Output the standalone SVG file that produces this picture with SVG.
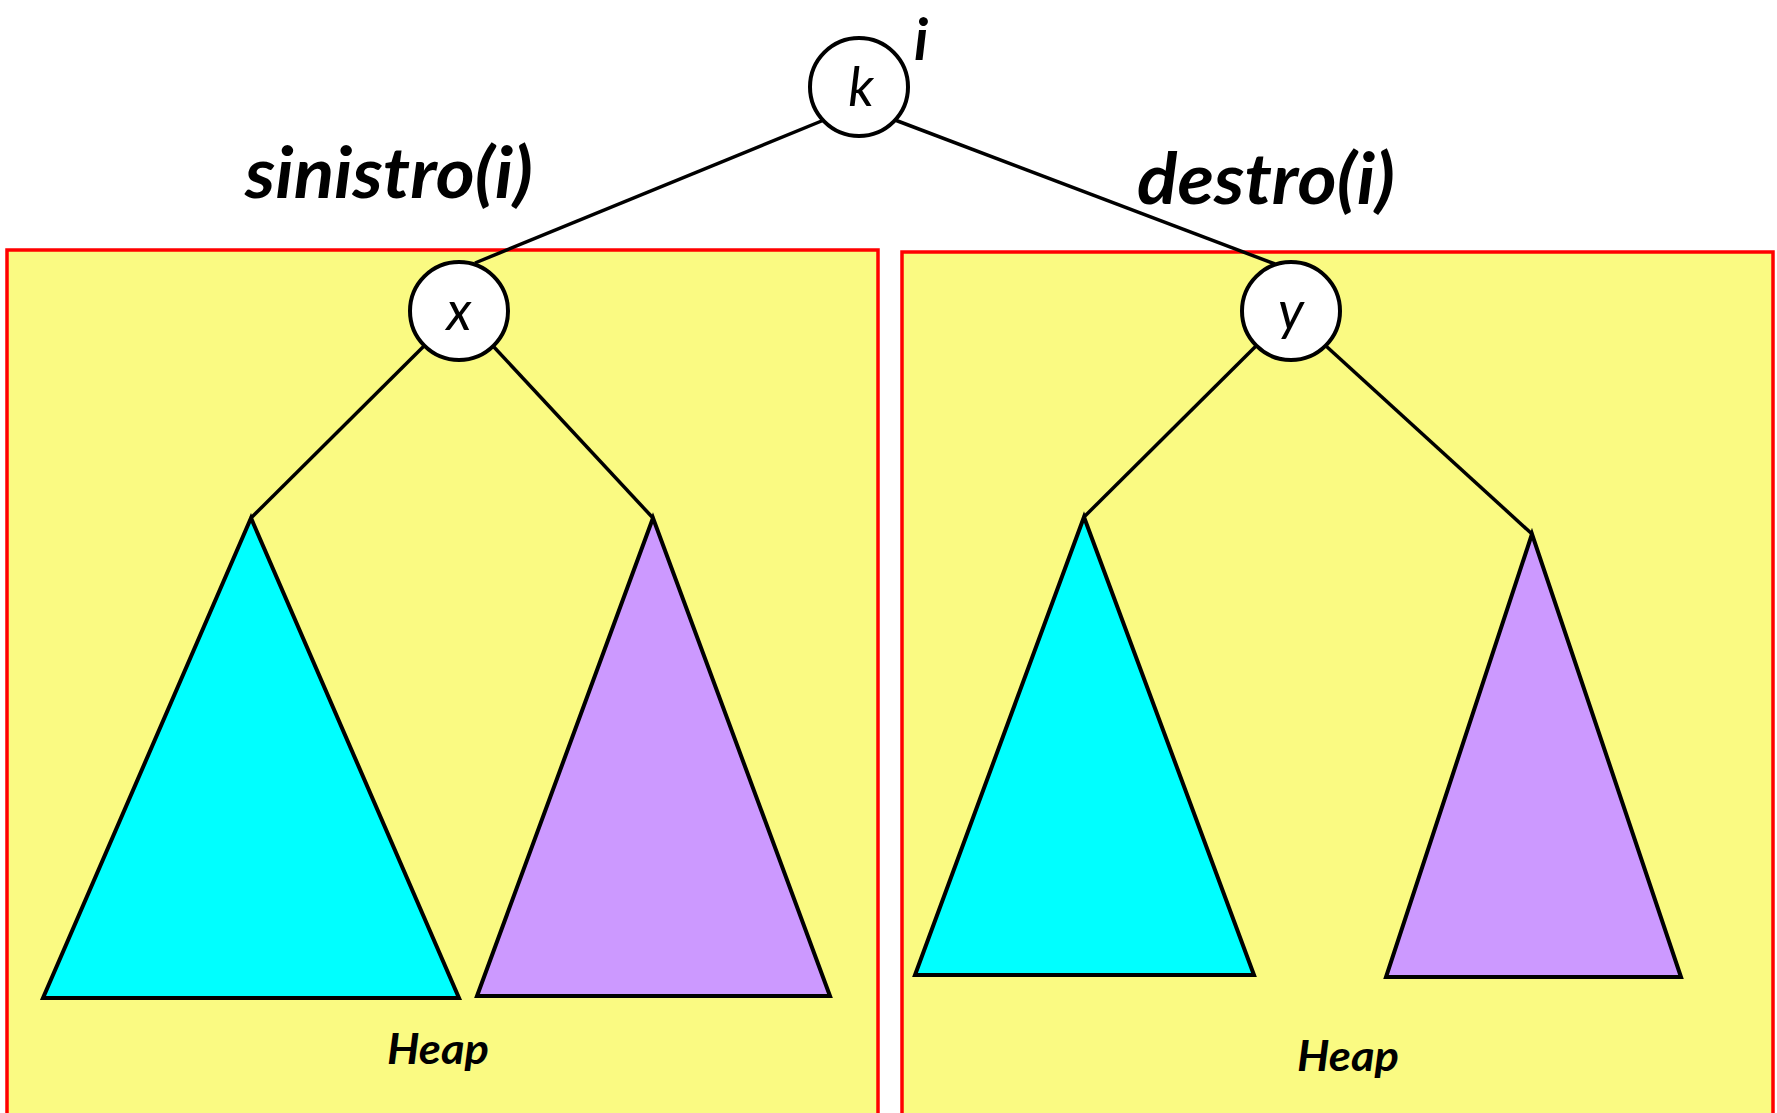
<svg xmlns="http://www.w3.org/2000/svg" width="1777" height="1113" viewBox="0 0 1777 1113">
  <style>
    .heap { fill: #fafa82; stroke: #ff0000; stroke-width: 3.5; }
    .node { fill: #ffffff; stroke: #000000; stroke-width: 4; }
    .edge { stroke: #000000; stroke-width: 3.5; fill: none; }
    .tri { stroke: #000000; stroke-width: 4; stroke-linejoin: miter; }
    .left { fill: #00ffff; }
    .right { fill: #cc99ff; }
    .var { font-family: Lato, "Liberation Sans", sans-serif; font-style: italic; font-size: 54px; fill: #000; text-anchor: middle; }
    .label { font-family: Lato, "Liberation Sans", sans-serif; font-style: italic; font-weight: bold; fill: #000; }
  </style>
  <rect width="1777" height="1113" fill="#ffffff"/>

  <!-- heap regions -->
  <g id="heap-left">
    <rect class="heap" x="7" y="250" width="871" height="880"/>
    <text class="label" x="387" y="1064" font-size="42" textLength="102" lengthAdjust="spacingAndGlyphs">Heap</text>
  </g>
  <g id="heap-right">
    <rect class="heap" x="902" y="252" width="871" height="880"/>
    <text class="label" x="1297" y="1071" font-size="42" textLength="102" lengthAdjust="spacingAndGlyphs">Heap</text>
  </g>

  <!-- subtrees -->
  <g id="subtree-x-left"><polygon class="tri left" points="251,518 43,998 459,998"/></g>
  <g id="subtree-x-right"><polygon class="tri right" points="653,518 477,996 830,996"/></g>
  <g id="subtree-y-left"><polygon class="tri left" points="1084,517 915,975 1254,975"/></g>
  <g id="subtree-y-right"><polygon class="tri right" points="1532,534 1386,977 1681,977"/></g>

  <!-- edges -->
  <g id="connectors">
    <line class="edge" x1="824" y1="120" x2="475" y2="263"/>
    <line class="edge" x1="895" y1="120" x2="1275" y2="264"/>
    <line class="edge" x1="424" y1="346" x2="251" y2="518"/>
    <line class="edge" x1="493" y1="346" x2="653" y2="518"/>
    <line class="edge" x1="1256" y1="346" x2="1084" y2="517"/>
    <line class="edge" x1="1326" y1="346" x2="1532" y2="534"/>
  </g>

  <!-- nodes -->
  <g id="node-k">
    <circle class="node" cx="859" cy="87" r="49"/>
    <text class="var" x="861" y="106">k</text>
    <text class="label" x="914" y="60" font-size="58">i</text>
  </g>
  <g id="node-x">
    <circle class="node" cx="459" cy="311" r="49"/>
    <text class="var" x="459" y="330">x</text>
  </g>
  <g id="node-y">
    <circle class="node" cx="1291" cy="311" r="49"/>
    <text class="var" x="1291" y="330">y</text>
  </g>

  <!-- child labels -->
  <text class="label" x="245" y="198" font-size="70" textLength="288" lengthAdjust="spacingAndGlyphs">sinistro(i)</text>
  <text class="label" x="1137" y="204" font-size="70" textLength="258" lengthAdjust="spacingAndGlyphs">destro(i)</text>
</svg>
